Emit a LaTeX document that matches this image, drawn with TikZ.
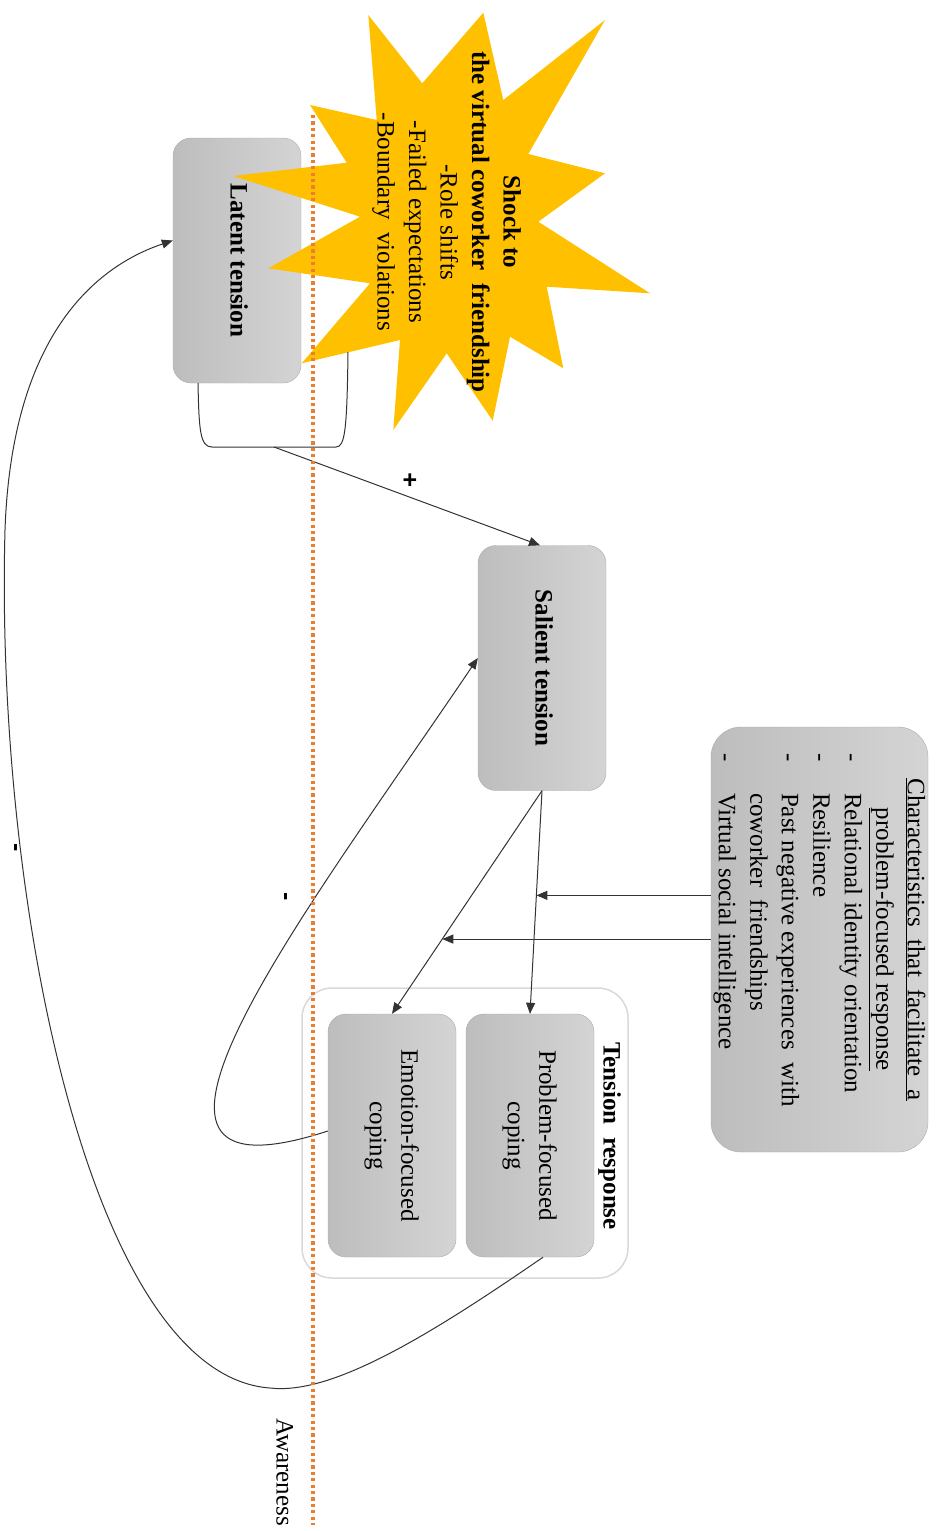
\documentclass[tikz,border=0pt]{standalone}
\usepackage{fontspec}
\setmainfont{Liberation Serif}
\setsansfont{Liberation Sans}
\usepackage{graphicx}
\usepackage{tikz}
\usetikzlibrary{arrows.meta,calc}
\definecolor{tgrayd}{HTML}{BDBDBD}
\definecolor{tgrayl}{HTML}{D4D4D4}
\definecolor{tedge}{HTML}{ABABAB}
\definecolor{tframe}{HTML}{D9D9D9}
\definecolor{tyellow}{HTML}{FFC000}
\definecolor{torange}{HTML}{ED7D31}
\definecolor{tline}{HTML}{333333}
\newcommand{\vt}[1]{\rotatebox{-90}{\begin{tabular}{@{}c@{}}#1\end{tabular}}}
\tikzset{
  % Grey shaded box, text turned a quarter clockwise.
  tbox/.style  = {rectangle, rounded corners=18pt, draw=tedge, left color=tgrayd,
                  right color=tgrayl, minimum width=128pt, minimum height=245pt,
                  inner sep=0pt},
  frame/.style = {rectangle, rounded corners=30pt, draw=tframe, line width=1.5pt,
                  fill=white, minimum width=326pt, minimum height=290pt},
  arr/.style   = {-{Triangle[length=11pt,width=9pt]}, line width=1pt, tline},
  link/.style  = {line width=1pt, tline},
  sign/.style  = {font=\fontsize{25}{30}\sffamily\bfseries},
  aware/.style = {torange, line width=3.5pt, dash pattern=on 3.2pt off 3.2pt},
}

\begin{document}
\begin{tikzpicture}[x=1pt, y=-1pt, every node/.style={font=\fontsize{25}{31.5}\selectfont}]
\useasboundingbox (0,0) rectangle (937,1531);
\node[tbox] (lat) at (237,260.5) {\vt{\textbf{Latent tension}}};
\fill[tyellow] (368.3,15) -- (422.3,83.3) -- (483.3,12.7) -- (503.3,100) -- (605,20)
  -- (528.3,154) -- (605,173.3) -- (538.3,221.7) -- (650,293.3) -- (546.7,286.7)
  -- (563.3,368.3) -- (510,336.7) -- (492.7,420.7) -- (446.7,353.3) -- (393.3,430)
  -- (400,340) -- (301.7,363.3) -- (370,283.3) -- (268.3,268.3) -- (360,216.7)
  -- (233.3,176) -- (346.7,162.7) -- (310,105) -- (376.7,120) -- cycle;
\node (shock) at (447,222) {\vt{\textbf{Shock to}\\\textbf{the virtual coworker\ \ friendship}\\-Role shifts\\-Failed expectations\\-Boundary\ \ violations}};
\node[tbox] (sal) at (542,668) {\vt{\textbf{Salient tension}}};
\node[frame] (resp) at (465,1133) {};
\node (resptitle) at (610,1136) {\vt{\textbf{Tension\ \ response}}};
\node[tbox, minimum height=243pt] (prob) at (530,1135.5) {\vt{Problem-focused\\coping}};
\node[tbox, minimum height=243pt] (emo) at (392,1135.5) {\vt{Emotion-focused\\coping}};
\node[tbox, rounded corners=30pt, minimum width=217pt, minimum height=425pt] (char) at (819.5,939.5)
  {\rotatebox{-90}{\parbox{373pt}{\centering
   \underline{Characteristics\ \ that\ \ facilitate\ \ a}\\
   \underline{problem-focused response}\par\raggedright
   \makebox[40pt][l]{-}Relational identity orientation\\
   \makebox[40pt][l]{-}Resilience\\
   \makebox[40pt][l]{-}Past negative experiences\ \ with\\
   \hspace*{40pt}coworker\ \ friendships\\
   \makebox[40pt][l]{-}Virtual social intelligence}}};
\node (aware) at (283,1472) {\vt{Awareness}};
\draw[link] ([xshift=-39pt]lat.south) .. controls (199,430) and (200,447) .. (212,447)
  -- (336,447) .. controls (345,447) and (347,430) .. (348,352);
\coordinate (brk) at (274,447);
\coordinate (m1) at ($(sal.south)!0.469!(prob.north)$);
\coordinate (m2) at ($(sal.south)!0.665!(emo.north)$);
\draw[arr] (brk) -- ([xshift=-2pt]sal.north);
\draw[arr] (sal.south) -- (prob.north);
\draw[arr] (sal.south) -- (emo.north);
\draw[arr] (char.west |- m1) -- (m1);
\draw[arr] (char.west |- m2) -- (m2);
\draw[arr] ([yshift=4.5pt]emo.west) .. controls (70,1215) and (310,907) .. ([yshift=10pt]sal.west);
\draw[arr] ([xshift=13pt]prob.south) .. controls (423,1340) and (330,1395) .. (270,1388)
  .. controls (90,1375) and (-5,900) .. (5,530) .. controls (12,330) and (100,265) .. ([yshift=20pt]lat.west);
\draw[aware] (313,115) -- (313,1525);
\node[sign] (plus) at (410,481) {+};
\node[sign] (minus1) at (283,897) {\rotatebox{-90}{-}};
\node[sign] (minus2) at (13,848) {\rotatebox{-90}{-}};
\end{tikzpicture}
\end{document}
